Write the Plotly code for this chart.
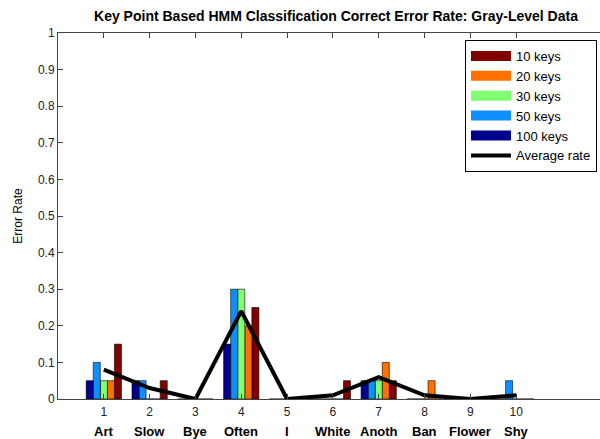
import plotly.graph_objects as go

categories = ["Art", "Slow", "Bye", "Often", "I", "White", "Anoth", "Ban", "Flower", "Shy"]
positions = [1, 2, 3, 4, 5, 6, 7, 8, 9, 10]

keys_10 = [0.15, 0.05, 0.0, 0.25, 0.0, 0.05, 0.05, 0.0, 0.0, 0.0]
keys_20 = [0.05, 0.0, 0.0, 0.20, 0.0, 0.0, 0.10, 0.05, 0.0, 0.0]
keys_30 = [0.05, 0.0, 0.0, 0.30, 0.0, 0.0, 0.05, 0.0, 0.0, 0.0]
keys_50 = [0.10, 0.05, 0.0, 0.30, 0.0, 0.0, 0.05, 0.0, 0.0, 0.05]
keys_100 = [0.05, 0.05, 0.0, 0.15, 0.0, 0.0, 0.05, 0.0, 0.0, 0.0]
average_rate = [0.08, 0.03, 0.0, 0.24, 0.0, 0.01, 0.06, 0.01, 0.0, 0.01]

y_ticks = [0, 0.1, 0.2, 0.3, 0.4, 0.5, 0.6, 0.7, 0.8, 0.9, 1]
y_tick_labels = ["0", "0.1", "0.2", "0.3", "0.4", "0.5", "0.6", "0.7", "0.8", "0.9", "1"]

FONT = "Arial, Liberation Sans, sans-serif"

# (name, values, color, slot index within group: left to right)
series = [
    ("10 keys", keys_10, "#800000", 4),
    ("20 keys", keys_20, "#ff7000", 3),
    ("30 keys", keys_30, "#80ff70", 2),
    ("50 keys", keys_50, "#0f8fff", 1),
    ("100 keys", keys_100, "#00008f", 0),
]

slot = 0.154
fig = go.Figure()
for name, vals, color, k in series:
    fig.add_trace(go.Bar(
        x=positions, y=vals, name=name, showlegend=False,
        width=slot, offset=-2.5 * slot + k * slot,
        marker=dict(color=color, line=dict(color="black", width=0.6)),
    ))

fig.add_trace(go.Scatter(
    x=positions, y=average_rate, name="Average rate", mode="lines",
    line=dict(color="black", width=4), showlegend=False,
))

# legend entries (wide swatches like the original)
for name, vals, color, k in series:
    fig.add_trace(go.Scatter(
        x=[None], y=[None], name=name, mode="lines",
        line=dict(color=color, width=15),
    ))
fig.add_trace(go.Scatter(
    x=[None], y=[None], name="Average rate", mode="lines",
    line=dict(color="black", width=4),
))

for xpos, cat in zip(positions, categories):
    fig.add_annotation(
        x=xpos, xref="x", y=-0.09, yref="paper", yanchor="middle",
        text="<b>" + cat + "</b>", showarrow=False,
        font=dict(family=FONT, size=13, color="black"),
    )

fig.update_layout(
    width=600, height=439,
    margin=dict(l=58, r=0, t=33, b=40),
    paper_bgcolor="white", plot_bgcolor="white",
    barmode="overlay",
    title=dict(
        text="<b>Key Point Based HMM Classification Correct Error Rate: Gray-Level Data</b>",
        x=(336) / 600, xanchor="center", y=1 - 16 / 439, yanchor="middle",
        font=dict(family=FONT, size=14, color="black"),
    ),
    font=dict(family=FONT, size=12, color="black"),
    showlegend=True,
    legend=dict(
        x=0.9945, xanchor="right", y=0.981, yanchor="top",
        bgcolor="white", bordercolor="black", borderwidth=1,
        font=dict(family=FONT, size=13, color="black"),
        itemwidth=40, tracegroupgap=0,
    ),
    xaxis=dict(
        range=[0, 11.83], tickmode="array", tickvals=positions,
        ticktext=[str(p) for p in positions],
        showgrid=False, zeroline=False,
        showline=True, linecolor="#444444", linewidth=1,
        mirror="ticks", ticks="inside", ticklen=5, tickcolor="#444444",
        ticklabelstandoff=2,
        tickfont=dict(family=FONT, size=12, color="#222222"),
    ),
    yaxis=dict(
        range=[0, 1], tickmode="array", tickvals=y_ticks, ticktext=y_tick_labels,
        showgrid=False, zeroline=False,
        showline=True, linecolor="#444444", linewidth=1,
        mirror=False, ticks="inside", ticklen=5, tickcolor="#444444",
        tickfont=dict(family=FONT, size=12, color="#222222"),
        title=dict(text="Error Rate", font=dict(family=FONT, size=12, color="black"), standoff=12),
    ),
)

fig.write_html("out.html")
